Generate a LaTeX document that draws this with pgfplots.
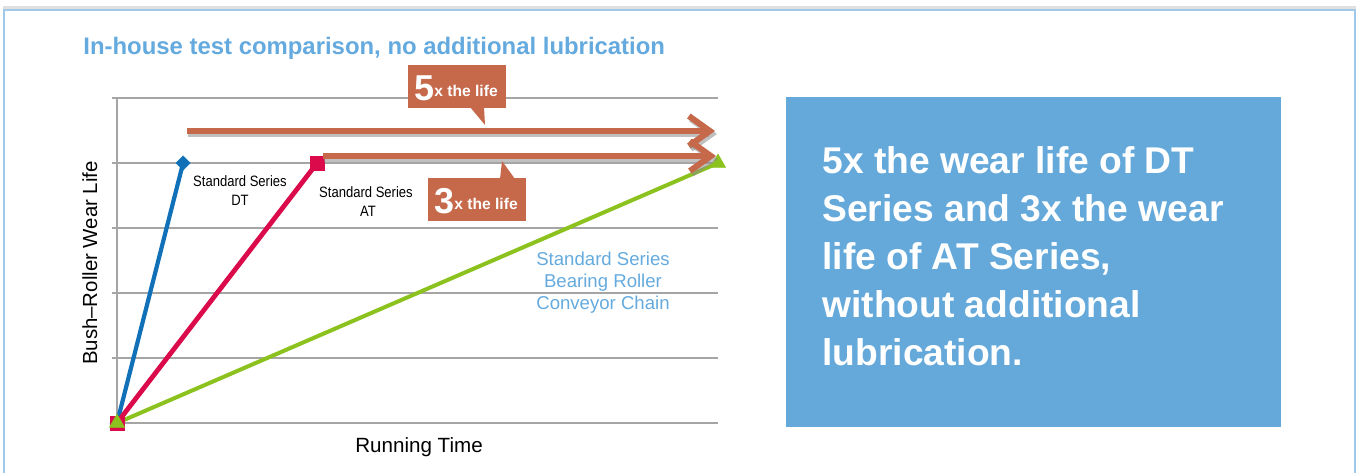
\documentclass[border=0pt]{standalone}
\usepackage{fontspec}
\setmainfont{Liberation Sans}
\usepackage{pgfplots}
\pgfplotsset{compat=1.18}
\usetikzlibrary{arrows.meta}
\definecolor{gridgray}{RGB}{165,165,165}
\definecolor{dtblue}{RGB}{16,112,184}
\definecolor{atred}{RGB}{218,10,75}
\definecolor{brgreen}{RGB}{140,194,30}
\definecolor{terra}{RGB}{198,104,74}
\definecolor{titleblue}{RGB}{100,170,222}
\definecolor{boxblue}{RGB}{101,169,219}
\definecolor{framecol}{RGB}{160,200,232}
\begin{document}
\begin{tikzpicture}[x=0.5pt,y=0.5pt]
\useasboundingbox (0,0) rectangle (1360,473);
% frame
\draw[black!12, line width=1.5pt] (3,465.5) -- (1356,465.5);
\draw[framecol, line width=0.9pt] (4,0) -- (4,463) -- (1355,463) -- (1355,0);
% title
\node[anchor=base west, inner sep=0pt, text=titleblue, font=\fontsize{11.95}{13}\selectfont\bfseries] at (83,419) {In-house test comparison, no additional lubrication};
\begin{axis}[
  at={(58.5pt,25pt)}, anchor=south west,
  scale only axis, width=300.5pt, height=162.5pt,
  xmin=0, xmax=10, ymin=0, ymax=5,
  axis lines=left,
  axis line style={draw=gridgray, line width=1pt, -},
  xtick=\empty, ytick={0,1,2,3,4,5}, yticklabels={},
  ymajorgrids, grid style={gridgray, line width=1pt},
  tick style={gridgray, line width=1pt},
  tick align=outside, major tick length=2.5pt,
  clip=false,
]
\addplot[dtblue, line width=2.1pt, mark=square*, mark size=2.5pt,
  mark options={rotate=45, line width=0.3pt, fill=dtblue}] coordinates {(0,0) (1.1,4)};
\addplot[atred, line width=2.4pt, mark=square*, mark size=3.6pt,
  mark options={line width=0.3pt, fill=atred}] coordinates {(0,0) (3.33,4)};
\addplot[brgreen, line width=2pt, mark=triangle*, mark size=4.4pt,
  mark options={line width=0.3pt, fill=brgreen}] coordinates {(0,0) (10,4)};
\end{axis}
% axis labels
\node[rotate=90, anchor=base, inner sep=0pt, font=\fontsize{10.2}{12}\selectfont] at (97,210) {Bush–Roller Wear Life};
\node[anchor=base, inner sep=0pt, font=\fontsize{10.3}{12}\selectfont] at (419,21) {Running Time};
% series labels
\newcommand{\cond}[1]{\scalebox{0.87}[1]{#1}}
\node[anchor=base, inner sep=0pt, font=\fontsize{7.5}{9}\selectfont] at (240,287) {\cond{Standard Series}};
\node[anchor=base, inner sep=0pt, font=\fontsize{7.5}{9}\selectfont] at (240,268) {\cond{DT}};
\node[anchor=base, inner sep=0pt, font=\fontsize{7.5}{9}\selectfont] at (366,276) {\cond{Standard Series}};
\node[anchor=base, inner sep=0pt, font=\fontsize{7.5}{9}\selectfont] at (368,257) {\cond{AT}};
\node[anchor=base, inner sep=0pt, text=titleblue, font=\fontsize{9.3}{11}\selectfont] at (603,208) {Standard Series};
\node[anchor=base, inner sep=0pt, text=titleblue, font=\fontsize{9.3}{11}\selectfont] at (603,186) {Bearing Roller};
\node[anchor=base, inner sep=0pt, text=titleblue, font=\fontsize{9.3}{11}\selectfont] at (603,164) {Conveyor Chain};
% arrows
\tikzset{bigarr/.style={line width=3pt, -{Straight Barb[length=10.5pt,width=15pt]}}}
\draw[black!45, opacity=0.55, bigarr] (188,339) -- (717,339);
\draw[terra, bigarr] (187,342) -- (715,342);
\draw[black!45, opacity=0.55, bigarr] (324,314) -- (718,314);
\draw[terra, bigarr] (323,317) -- (716,317);
% callouts
\fill[terra] (408,365) rectangle (506,408);
\fill[terra] (470,366) -- (485,348) -- (484,366) -- cycle;
\node[anchor=base west, inner sep=0pt, text=white, font=\bfseries] at (414,373)
  {{\fontsize{18}{18}\selectfont 5}\raisebox{2pt}{\fontsize{7.8}{8}\selectfont x the life}};
\fill[terra] (428,252) rectangle (526,295);
\fill[terra] (500,294) -- (502,312) -- (515,294) -- cycle;
\node[anchor=base west, inner sep=0pt, text=white, font=\bfseries] at (434,260)
  {{\fontsize{18}{18}\selectfont 3}\raisebox{2pt}{\fontsize{7.8}{8}\selectfont x the life}};
% blue box
\fill[boxblue] (786,46) rectangle (1281,376);
\foreach \t/\yy in {{5x the wear life of DT}/300, {Series and 3x the wear}/252, {life of AT Series,}/204, {without additional}/156, {lubrication.}/108}
  \node[anchor=base west, inner sep=0pt, text=white, font=\fontsize{18.6}{22}\selectfont\bfseries] at (822,\yy) {\t};
\end{tikzpicture}
\end{document}
